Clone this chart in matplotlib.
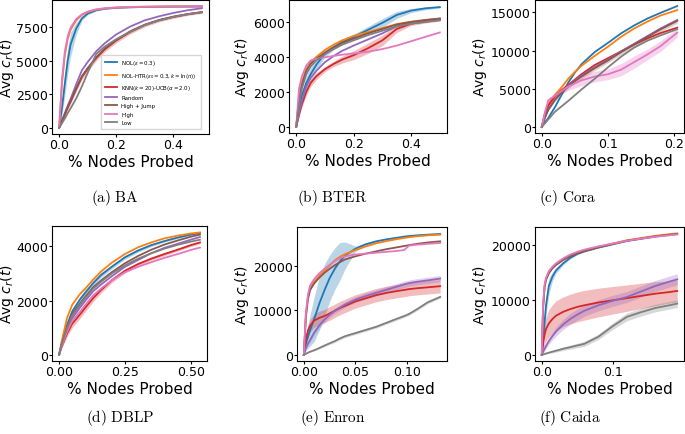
import matplotlib
matplotlib.use("Agg")
import matplotlib.pyplot as plt
import numpy as np

# ---------------- shared ----------------
legend_labels = [r"NOL($\epsilon = 0.3$)",
                 r"NOL-HTR($\epsilon_0 = 0.3, k = \ln(n)$)",
                 r"KNN($k = 20$)-UCB($\alpha = 2.0$)",
                 "Random", "High + Jump", "High", "Low"]
series_keys = ["nol", "htr", "knn", "random", "highjump", "high", "low"]
colors = ["#1f77b4", "#ff7f0e", "#d62728", "#9467bd", "#8c564b", "#e377c2", "#7f7f7f"]
captions = ["(a) BA", "(b) BTER", "(c) Cora", "(d) DBLP", "(e) Enron", "(f) Caida"]

# ---------------- (a) BA ----------------
ba_x = [0, 0.01, 0.02, 0.03, 0.04, 0.06, 0.08, 0.1, 0.13, 0.16, 0.2, 0.25, 0.3, 0.35, 0.4, 0.45, 0.5]
ba_nol = [0, 1500, 3300, 5000, 6200, 7400, 8150, 8500, 8750, 8860, 8930, 8970, 8995, 9010, 9020, 9025, 9030]
ba_htr = [0, 3300, 5400, 6600, 7300, 8000, 8400, 8620, 8800, 8890, 8950, 8990, 9010, 9025, 9035, 9040, 9045]
ba_knn = [0, 500, 1000, 1500, 1950, 2900, 3800, 4400, 5200, 5850, 6500, 7150, 7650, 8000, 8250, 8450, 8600]
ba_random = [0, 550, 1100, 1650, 2150, 3250, 4300, 4900, 5700, 6300, 6950, 7550, 8000, 8300, 8550, 8750, 8900]
ba_highjump = [0, 520, 1030, 1540, 2000, 2950, 3850, 4450, 5250, 5900, 6550, 7200, 7680, 8030, 8280, 8470, 8620]
ba_high = [0, 3600, 5700, 6800, 7450, 8100, 8450, 8650, 8820, 8900, 8960, 9000, 9020, 9030, 9040, 9045, 9050]
ba_low = [0, 350, 700, 1100, 1450, 2200, 3100, 4100, 5500, 6050, 6600, 7150, 7650, 8000, 8250, 8450, 8600]
ba_nol_sd = [0, 500, 900, 1000, 900, 450, 150, 80, 50, 40, 30, 30, 30, 30, 30, 30, 30]
ba_knn_sd = [0, 60, 100, 130, 160, 180, 200, 200, 200, 190, 170, 150, 130, 110, 100, 90, 80]

# ---------------- (b) BTER ----------------
bt_x = [0, 0.01, 0.02, 0.035, 0.05, 0.07, 0.1, 0.13, 0.16, 0.2, 0.25, 0.3, 0.35, 0.4, 0.45, 0.5]
bt_nol = [0, 900, 1800, 2500, 3000, 3550, 4200, 4550, 4850, 5150, 5550, 5950, 6400, 6650, 6780, 6850]
bt_htr = [0, 1700, 2600, 3300, 3700, 4000, 4400, 4700, 4950, 5200, 5420, 5650, 5880, 6020, 6120, 6200]
bt_knn = [0, 700, 1300, 2000, 2500, 2900, 3300, 3600, 3850, 4100, 4500, 4950, 5600, 5900, 6020, 6110]
bt_random = [0, 800, 1500, 2300, 2800, 3200, 3700, 4050, 4350, 4650, 5000, 5350, 5750, 5950, 6100, 6200]
bt_highjump = [0, 1500, 2400, 3200, 3600, 3900, 4250, 4550, 4800, 5050, 5350, 5600, 5850, 6000, 6100, 6180]
bt_high = [0, 2200, 2900, 3500, 3800, 3900, 3980, 4060, 4130, 4200, 4300, 4450, 4650, 4900, 5150, 5400]
bt_low = [0, 1300, 2200, 3000, 3450, 3800, 4150, 4450, 4700, 4950, 5250, 5500, 5750, 5900, 6000, 6100]
bt_nol_sd = [0, 200, 300, 400, 400, 350, 200, 150, 150, 150, 200, 250, 200, 120, 80, 60]
bt_knn_sd = [0, 100, 150, 200, 200, 200, 150, 150, 200, 250, 300, 300, 200, 100, 80, 60]

# ---------------- (c) Cora ----------------
co_x = [0, 0.005, 0.01, 0.02, 0.03, 0.04, 0.05, 0.06, 0.08, 0.1, 0.12, 0.14, 0.16, 0.18, 0.205]
co_nol = [0, 600, 1200, 2600, 4200, 5800, 7100, 8200, 9800, 11000, 12250, 13300, 14200, 14950, 15830]
co_htr = [0, 1800, 3000, 4200, 5200, 6300, 7200, 8000, 9300, 10500, 11800, 12900, 13800, 14600, 15300]
co_knn = [0, 1800, 2800, 4000, 4800, 5500, 6200, 6900, 8100, 9000, 9900, 10800, 11600, 12300, 13000]
co_random = [0, 1300, 2300, 3600, 4600, 5400, 6100, 6700, 7800, 8800, 9900, 10900, 11900, 12900, 14000]
co_highjump = [0, 1300, 2300, 3550, 4500, 5300, 6000, 6600, 7700, 8700, 9800, 10800, 11800, 12800, 13900]
co_high = [0, 2000, 3500, 4100, 4700, 5300, 5700, 6100, 6600, 6900, 7500, 8500, 9500, 10600, 12350]
co_low = [0, 500, 1000, 2000, 2700, 3400, 4150, 4900, 6300, 7800, 9200, 10400, 11300, 12000, 12800]
co_high_sd = [0, 200, 300, 300, 400, 500, 600, 700, 700, 700, 800, 800, 700, 700, 600]
co_highjump_sd = [0, 100, 150, 200, 250, 300, 300, 300, 300, 300, 300, 300, 300, 300, 300]

# ---------------- (d) DBLP ----------------
db_x = [0, 0.01, 0.03, 0.05, 0.08, 0.1, 0.13, 0.16, 0.2, 0.25, 0.3, 0.35, 0.4, 0.45, 0.5, 0.535]
db_nol = [0, 400, 1100, 1600, 2050, 2300, 2650, 2950, 3250, 3600, 3850, 4050, 4200, 4330, 4440, 4500]
db_htr = [0, 500, 1350, 1850, 2250, 2450, 2780, 3080, 3400, 3720, 3970, 4150, 4300, 4400, 4480, 4520]
db_knn = [0, 300, 780, 1150, 1500, 1750, 2100, 2400, 2750, 3100, 3350, 3550, 3720, 3880, 4050, 4150]
db_random = [0, 350, 900, 1350, 1750, 2000, 2350, 2600, 2900, 3250, 3500, 3750, 3950, 4100, 4250, 4350]
db_highjump = [0, 400, 1000, 1500, 1900, 2150, 2500, 2750, 3050, 3380, 3650, 3880, 4070, 4220, 4360, 4440]
db_high = [0, 320, 850, 1250, 1600, 1850, 2200, 2450, 2750, 3050, 3250, 3420, 3580, 3720, 3870, 3960]
db_low = [0, 380, 970, 1450, 1850, 2100, 2450, 2700, 3000, 3300, 3550, 3750, 3920, 4060, 4180, 4250]
db_knn_sd = [0, 60, 120, 150, 150, 150, 130, 110, 90, 80, 70, 60, 60, 50, 50, 50]
db_nol_sd = [0, 60, 100, 120, 120, 110, 100, 90, 80, 70, 60, 50, 40, 40, 30, 30]

# ---------------- (e) Enron ----------------
en_x = [0, 0.002, 0.004, 0.006, 0.01, 0.015, 0.02, 0.025, 0.03, 0.035, 0.04, 0.05, 0.06, 0.07,
        0.08, 0.09, 0.097, 0.102, 0.11, 0.12, 0.132]
en_nol = [0, 2500, 4000, 5500, 8000, 11500, 14500, 17200, 19300, 21000, 22300, 23800, 24800, 25450,
          25900, 26250, 26500, 26650, 26800, 26950, 27100]
en_htr = [0, 9000, 13000, 15000, 16400, 17800, 18900, 20000, 21200, 22000, 22600, 23500, 24300, 25000,
          25500, 25950, 26200, 26400, 26600, 26800, 26950]
en_knn = [0, 3500, 5500, 6500, 7700, 8300, 8700, 9300, 9900, 10500, 11000, 12000, 12700, 13400,
          13900, 14300, 14550, 14750, 14950, 15150, 15400]
en_random = [0, 1500, 2500, 3300, 5000, 6600, 7900, 9000, 9900, 10600, 11300, 12400, 13200, 13900,
             14600, 15300, 15800, 16100, 16400, 16700, 17100]
en_highjump = [0, 8500, 12500, 14500, 16000, 17300, 18400, 19300, 20100, 20800, 21400, 22100, 22700, 23200,
               23700, 24100, 24400, 24600, 24900, 25200, 25450]
en_high = [0, 9500, 13500, 15500, 17000, 18300, 19300, 20200, 21000, 21700, 22100, 22500, 22700, 22900,
           23100, 23300, 23500, 24500, 24700, 24900, 25100]
en_low = [0, 250, 500, 700, 1050, 1550, 2100, 2600, 3100, 3700, 4200, 4900, 5600, 6300,
          7200, 8100, 8700, 9200, 10300, 11800, 13000]
en_nol_sd = [0, 1500, 2500, 3500, 5000, 6000, 5800, 5200, 4700, 4200, 3000, 600, 300, 300,
             250, 200, 200, 200, 200, 200, 200]
en_knn_sd = [0, 800, 1200, 1400, 1500, 1500, 1500, 1500, 1500, 1500, 1500, 1500, 1500, 1500,
             1500, 1500, 1500, 1500, 1500, 1500, 1500]
en_random_sd = [0, 200, 300, 400, 500, 600, 600, 600, 600, 600, 600, 650, 700, 700,
                700, 700, 700, 700, 700, 700, 700]
en_low_sd = [0, 50, 80, 100, 150, 200, 250, 250, 300, 300, 300, 300, 300, 300,
             300, 300, 300, 300, 300, 300, 300]

# ---------------- (f) Caida ----------------
ca_x = [0, 0.001, 0.002, 0.004, 0.006, 0.01, 0.015, 0.02, 0.03, 0.04, 0.05, 0.06, 0.08, 0.1,
        0.12, 0.14, 0.16, 0.18, 0.191]
ca_nol = [0, 1500, 3000, 6000, 9000, 12500, 14200, 15300, 16600, 17600, 18300, 18800, 19500, 20100,
          20700, 21100, 21500, 21800, 21950]
ca_htr = [0, 5000, 9000, 12500, 13800, 15000, 15800, 16400, 17300, 18000, 18500, 18900, 19600, 20200,
          20800, 21200, 21600, 21900, 22050]
ca_knn = [0, 1200, 2300, 3700, 4700, 5700, 6500, 7100, 7800, 8300, 8700, 9000, 9500, 9900,
          10300, 10700, 11100, 11400, 11600]
ca_random = [0, 300, 600, 1100, 1600, 2500, 3400, 4200, 5500, 6500, 7300, 8000, 9000, 9800,
             10500, 11500, 12500, 13300, 13700]
ca_highjump = [0, 4800, 8800, 12300, 13600, 14800, 15700, 16300, 17200, 17900, 18400, 18800, 19500, 20100,
               20700, 21100, 21500, 21800, 21950]
ca_high = [0, 5500, 9500, 12800, 14000, 15200, 16000, 16600, 17500, 18200, 18700, 19100, 19700, 20200,
           20700, 21100, 21450, 21700, 21850]
ca_low = [0, 40, 80, 160, 240, 400, 580, 750, 1100, 1400, 1700, 2000, 3300, 5200,
          6900, 7750, 8500, 9000, 9300]
ca_nol_sd = [0, 500, 1000, 1500, 1800, 1500, 800, 500, 300, 200, 150, 150, 150, 150,
             150, 150, 150, 150, 150]
ca_knn_sd = [0, 1000, 1500, 2000, 2200, 2500, 2600, 2700, 2700, 2700, 2700, 2700, 2600, 2500,
             2400, 2300, 2200, 2000, 2000]
ca_random_sd = [0, 200, 300, 400, 500, 600, 700, 800, 900, 1000, 1000, 1000, 1000, 1000,
                1000, 1000, 1000, 1000, 1000]
ca_low_sd = [0, 50, 80, 100, 120, 150, 200, 250, 300, 350, 400, 450, 500, 600,
             700, 700, 700, 700, 700]

# ---------------- ticks ----------------
ba_xticks, ba_yticks = [0.0, 0.2, 0.4], [0, 2500, 5000, 7500]
bt_xticks, bt_yticks = [0.0, 0.2, 0.4], [0, 2000, 4000, 6000]
co_xticks, co_yticks = [0.0, 0.1, 0.2], [0, 5000, 10000, 15000]
db_xticks, db_yticks = [0.0, 0.25, 0.5], [0, 2000, 4000]
en_xticks, en_yticks = [0.0, 0.05, 0.1], [0, 10000, 20000]
ca_xticks, ca_yticks = [0.0, 0.1], [0, 10000, 20000]

panels = [
    dict(x=ba_x, ys=[ba_nol, ba_htr, ba_knn, ba_random, ba_highjump, ba_high, ba_low],
         sd={"nol": ba_nol_sd, "knn": ba_knn_sd}, xt=ba_xticks, yt=ba_yticks, xfmt="{:.1f}"),
    dict(x=bt_x, ys=[bt_nol, bt_htr, bt_knn, bt_random, bt_highjump, bt_high, bt_low],
         sd={"nol": bt_nol_sd, "knn": bt_knn_sd}, xt=bt_xticks, yt=bt_yticks, xfmt="{:.1f}"),
    dict(x=co_x, ys=[co_nol, co_htr, co_knn, co_random, co_highjump, co_high, co_low],
         sd={"high": co_high_sd, "highjump": co_highjump_sd}, xt=co_xticks, yt=co_yticks, xfmt="{:.1f}"),
    dict(x=db_x, ys=[db_nol, db_htr, db_knn, db_random, db_highjump, db_high, db_low],
         sd={"knn": db_knn_sd, "nol": db_nol_sd}, xt=db_xticks, yt=db_yticks, xfmt="{:.2f}"),
    dict(x=en_x, ys=[en_nol, en_htr, en_knn, en_random, en_highjump, en_high, en_low],
         sd={"nol": en_nol_sd, "knn": en_knn_sd, "random": en_random_sd, "low": en_low_sd},
         xt=en_xticks, yt=en_yticks, xfmt="{:.2f}"),
    dict(x=ca_x, ys=[ca_nol, ca_htr, ca_knn, ca_random, ca_highjump, ca_high, ca_low],
         sd={"nol": ca_nol_sd, "knn": ca_knn_sd, "random": ca_random_sd, "low": ca_low_sd},
         xt=ca_xticks, yt=ca_yticks, xfmt="{:.1f}"),
]

W, H = 685, 435
# axes boxes in pixels: left, top, right, bottom
boxes = [(52, 1, 209, 135), (289, 1, 447, 134), (535, 1, 684, 134),
         (52, 227, 207, 362), (297, 228, 447, 362), (535, 228, 684, 362)]
ylabel_right_px = [16.5, 251, 489, 16.5, 251, 489]
caption_pos = [(115, 198), (332, 198), (568, 198), (120, 418), (333, 418), (570, 418)]

fig = plt.figure(figsize=(W / 100, H / 100), dpi=100)

for i, p in enumerate(panels):
    l, t, r, b = boxes[i]
    ax = fig.add_axes([l / W, (H - b) / H, (r - l) / W, (b - t) / H])
    x = np.array(p["x"])
    handles = []
    for key, y, c, lab in zip(series_keys, p["ys"], colors, legend_labels):
        y = np.array(y, dtype=float)
        if key in p["sd"]:
            s = np.array(p["sd"][key], dtype=float)
            ax.fill_between(x, y - s, y + s, color=c, alpha=0.3, lw=0)
        h, = ax.plot(x, y, color=c, lw=1.3, label=lab)
        handles.append(h)
    ax.set_xticks(p["xt"])
    ax.set_xticklabels([p["xfmt"].format(v) for v in p["xt"]])
    ax.set_yticks(p["yt"])
    ax.set_yticklabels([str(v) for v in p["yt"]])
    ax.tick_params(labelsize=9, length=2.0, pad=1.0, width=0.8)
    ax.set_xlabel("% Nodes Probed", fontsize=11, labelpad=2)
    ax.set_ylabel(r"Avg $c_r(t)$", fontsize=10)
    ax.yaxis.set_label_coords((ylabel_right_px[i] - l) / (r - l), 0.5)
    for sp in ax.spines.values():
        sp.set_linewidth(0.8)
    if i == 0:
        ax.legend(handles=handles, loc="lower right", bbox_to_anchor=(0.965, 0.02),
                  fontsize=3.9, frameon=True, handlelength=2.2, labelspacing=0.6,
                  borderpad=0.7, fancybox=False, edgecolor="#cccccc")
    cx, cy = caption_pos[i]
    fig.text(cx / W, (H - cy) / H, r"$\mathrm{" + captions[i].replace(" ", r"\ ") + "}$",
             ha="center", va="center", fontsize=11, math_fontfamily="cm")

fig.savefig("out.png", dpi=100)
